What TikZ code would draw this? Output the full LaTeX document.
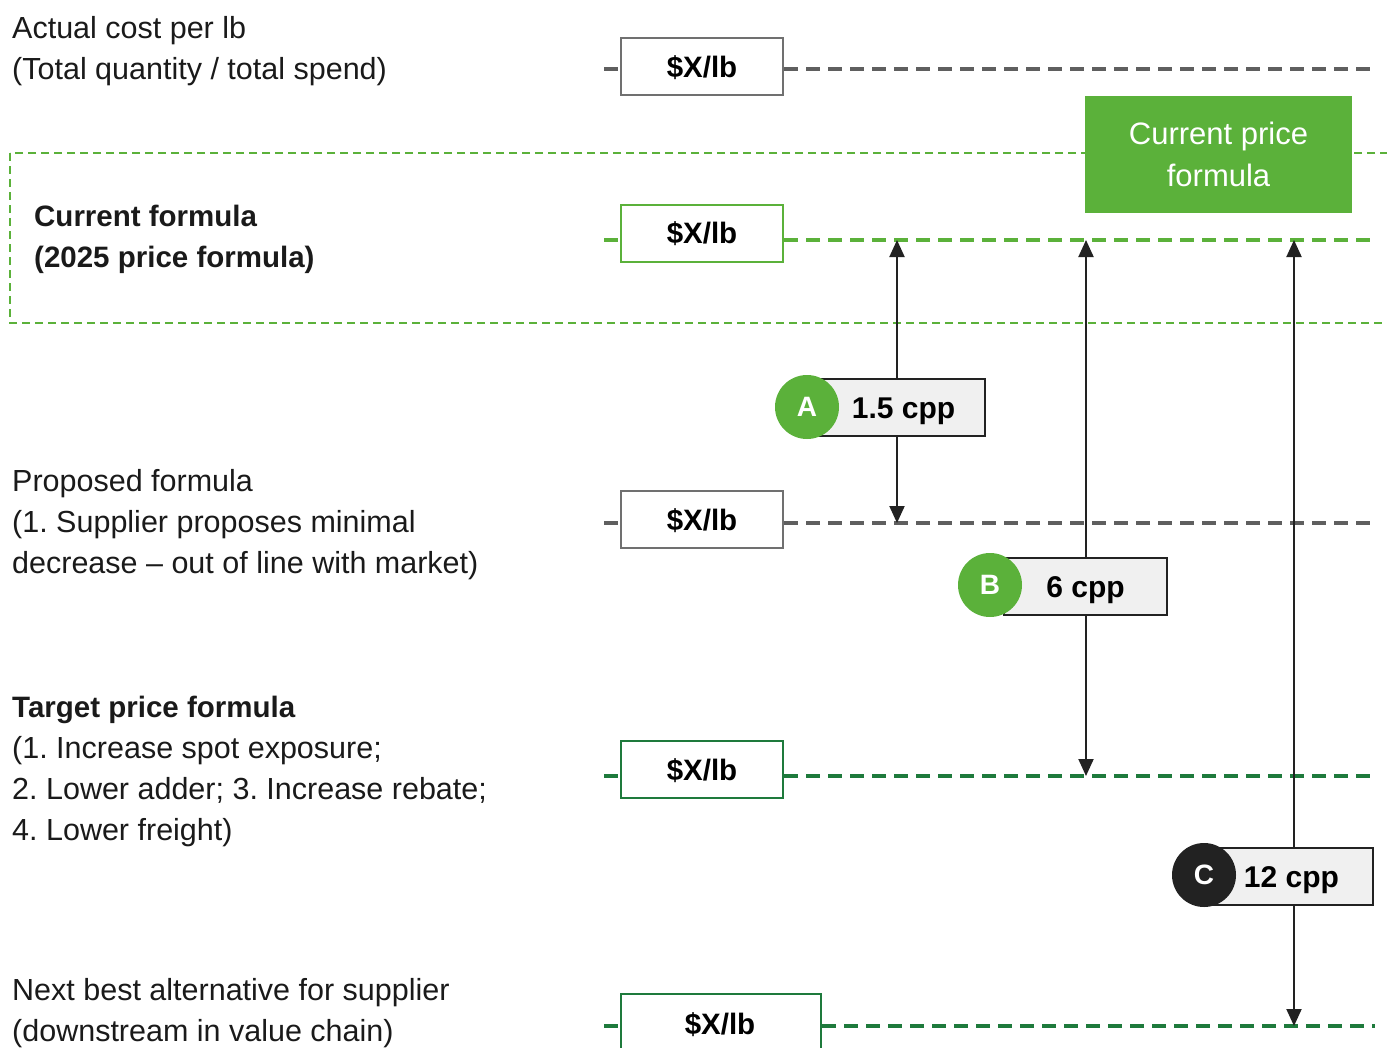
\documentclass[tikz,border=0pt]{standalone}
\usepackage{fontspec}
\setmainfont{Liberation Sans}
\usetikzlibrary{arrows.meta}
\definecolor{lgreen}{HTML}{5BB13A}
\definecolor{dgreen}{HTML}{1E7A3C}
\definecolor{lgray}{HTML}{5F5F5F}
\definecolor{txt}{HTML}{1A1A1A}
\definecolor{boxgray}{HTML}{707070}
\definecolor{lblfill}{HTML}{F0F0F0}
\definecolor{darkc}{HTML}{222222}
\frenchspacing
\begin{document}
\begin{tikzpicture}[x=1pt,y=-1pt,
  lbl/.style={anchor=base west, inner sep=0pt, font=\fontsize{30.5}{35}\selectfont, text=txt},
  lblb/.style={lbl, font=\fontsize{29.5}{35}\selectfont\bfseries},
  valbox/.style={draw, line width=2pt, fill=white, minimum width=162pt, minimum height=57pt, inner sep=0pt, text height=21pt, text depth=0pt, font=\fontsize{29.5}{35}\selectfont\bfseries, text=black},
  level/.style={line width=4pt, dash pattern=on 14pt off 8pt},
  cppbox/.style={draw=darkc, line width=2pt, fill=lblfill, minimum width=163pt, minimum height=57pt, inner sep=0pt, text height=21pt, text depth=0pt, font=\fontsize{30}{35}\selectfont\bfseries, text=black},
  badge/.style={circle, minimum size=64pt, inner sep=0pt, font=\fontsize{28}{30}\selectfont\bfseries, text=white},
  dimarrow/.style={line width=2pt, draw=darkc, -{Triangle[length=17pt,width=15pt]}},
]
\useasboundingbox (0,0) rectangle (1387,1047);
\clip (0,0) rectangle (1387,1047);

% highlighted band
\draw[lgreen, line width=2pt, dash pattern=on 8pt off 5pt] (10,153) rectangle (1400,323);

% left labels
\node[lbl] (t1a) at (12,38) {Actual cost per lb};
\node[lbl] (t1b) at (12,79) {(Total quantity / total spend)};
\node[lblb] (t2a) at (34,226) {Current formula};
\node[lblb] (t2b) at (34,267) {(2025 price formula)};
\node[lbl] (t3a) at (12,491) {Proposed formula};
\node[lbl] (t3b) at (12,532) {(1. Supplier proposes minimal};
\node[lbl] (t3c) at (12,573) {decrease -- out of line with market)};
\node[lblb] (t4a) at (12,717) {Target price formula};
\node[lbl] (t4b) at (12,758) {(1. Increase spot exposure;};
\node[lbl] (t4c) at (12,799) {2. Lower adder; 3. Increase rebate;};
\node[lbl] (t4d) at (12,840) {4. Lower freight)};
\node[lbl] (t5a) at (12,1000) {Next best alternative for supplier};
\node[lbl] (t5b) at (12,1041) {(downstream in value chain)};

% value boxes
\node[valbox, draw=boxgray] (v1) at (702,66.5) {\$X/lb};
\node[valbox, draw=lgreen] (v2) at (702,233) {\$X/lb};
\node[valbox, draw=boxgray] (v3) at (702,519.5) {\$X/lb};
\node[valbox, draw=dgreen] (v4) at (702,769.5) {\$X/lb};
\node[draw=dgreen, line width=2pt, fill=white, minimum width=200pt, minimum height=90pt, inner sep=0pt] (v5) at (721,1039) {};
\node[inner sep=0pt, text height=21pt, text depth=0pt, font=\fontsize{29.5}{35}\selectfont\bfseries, text=black] (v5t) at (720,1024) {\$X/lb};

% level lines
\coordinate (l1s) at (604,69);   \coordinate (l1e) at (1375,69);
\coordinate (l2s) at (604,240);  \coordinate (l2e) at (1375,240);
\coordinate (l3s) at (604,523);  \coordinate (l3e) at (1375,523);
\coordinate (l4s) at (604,776);  \coordinate (l4e) at (1375,776);
\coordinate (l5s) at (604,1026); \coordinate (l5e) at (1375,1026);
\draw[level, lgray] (l1s) -- (l1s -| v1.west);
\draw[level, lgray] (l1s -| v1.east) -- (l1e);
\draw[level, lgreen] (l2s) -- (l2s -| v2.west);
\draw[level, lgreen] (l2s -| v2.east) -- (l2e);
\draw[level, lgray] (l3s) -- (l3s -| v3.west);
\draw[level, lgray] (l3s -| v3.east) -- (l3e);
\draw[level, dgreen] (l4s) -- (l4s -| v4.west);
\draw[level, dgreen] (l4s -| v4.east) -- (l4e);
\draw[level, dgreen] (l5s) -- (l5s -| v5.west);
\draw[level, dgreen] (l5s -| v5.east) -- (l5e);

% current price formula tag
\node[fill=lgreen, minimum width=267pt, minimum height=117pt, inner sep=0pt, align=center, text=white, font=\fontsize{31}{42}\selectfont] (cpf) at (1218.5,154) {Current price\\formula};

% gap arrows
\coordinate (aTop) at (897,240);  \coordinate (aBot) at (897,523);
\coordinate (bTop) at (1086,240); \coordinate (bBot) at (1086,776);
\coordinate (cTop) at (1294,240); \coordinate (cBot) at (1294,1026);

\node[cppbox, minimum width=167pt] (gA) at (901.5,407.5) {\hspace{4pt}1.5 cpp};
\node[cppbox] (gB) at (1085.5,586.5) {6 cpp};
\node[cppbox] (gC) at (1291.5,876.5) {12 cpp};

\draw[dimarrow] (aTop |- gA.north) -- (aTop);
\draw[dimarrow] (aTop |- gA.south) -- (aBot);
\draw[dimarrow] (bTop |- gB.north) -- (bTop);
\draw[dimarrow] (bTop |- gB.south) -- (bBot);
\draw[dimarrow] (cTop |- gC.north) -- (cTop);
\draw[dimarrow] (cTop |- gC.south) -- (cBot);

\node[badge, fill=lgreen] (bA) at (807,407) {A};
\node[badge, fill=lgreen] (bB) at (990,585) {B};
\node[badge, fill=darkc] (bC) at (1204,875) {C};
\end{tikzpicture}
\end{document}
